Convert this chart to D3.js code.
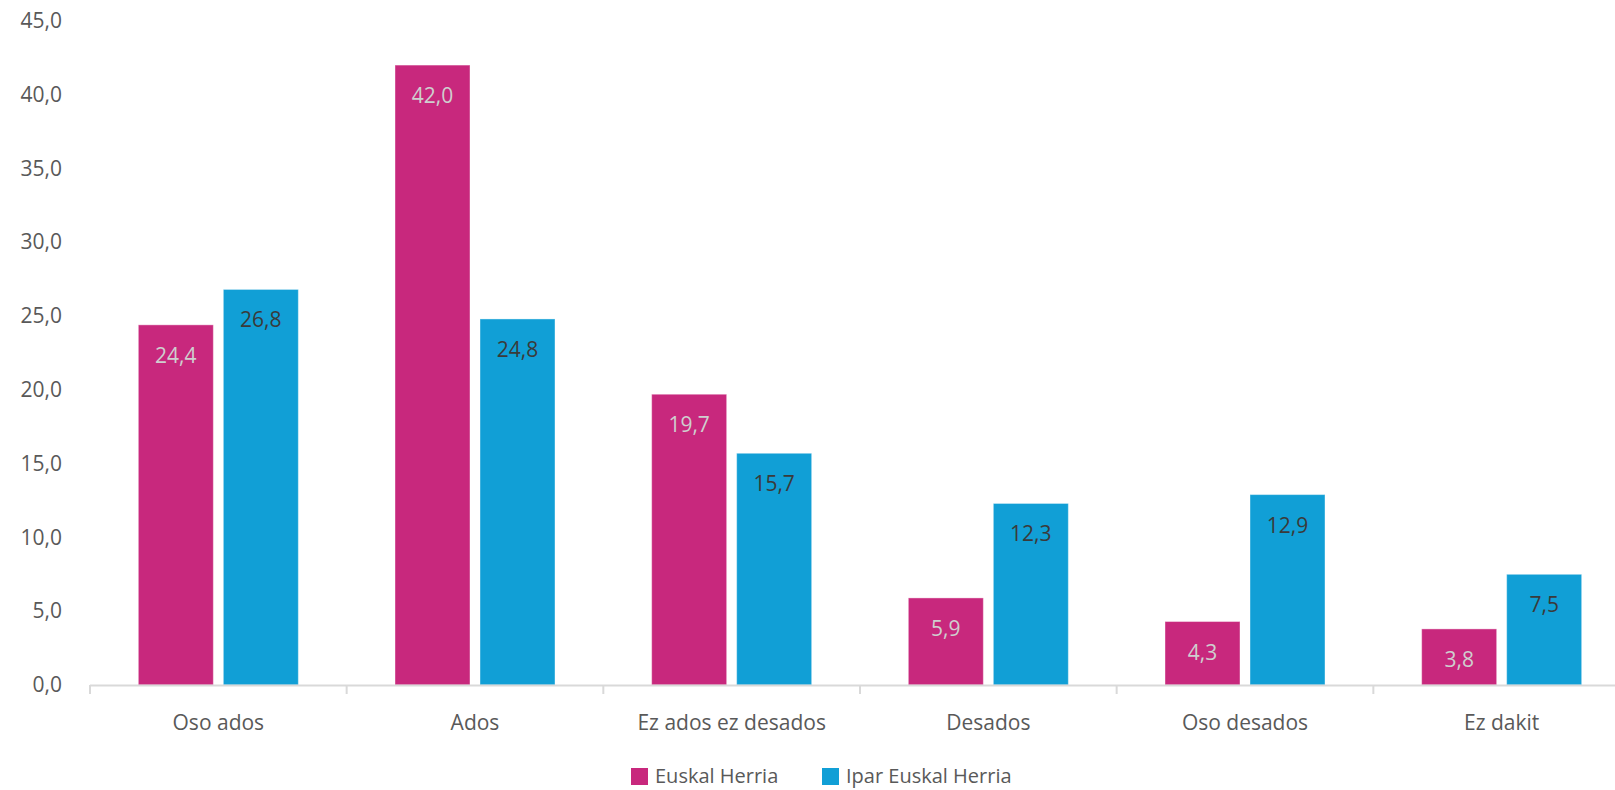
<!DOCTYPE html>
<html>
<head>
<meta charset="utf-8">
<script src="https://cdn.jsdelivr.net/npm/d3@7"></script>
<style>
  body { margin: 0; background: #fff; }
  svg text { font-family: "Open Sans", Roboto, sans-serif; }
</style>
</head>
<body>
<div id="chart"></div>
<script>
// data
var categories = ["Oso ados", "Ados", "Ez ados ez desados", "Desados", "Oso desados", "Ez dakit"];
var seriesNames = ["Euskal Herria", "Ipar Euskal Herria"];
var euskalHerria = [24.4, 42.0, 19.7, 5.9, 4.3, 3.8];
var iparEuskalHerria = [26.8, 24.8, 15.7, 12.3, 12.9, 7.5];
var yTicks = [0, 5, 10, 15, 20, 25, 30, 35, 40, 45];

var colors = ["#c8287d", "#119fd6"];
var labelColors = ["#cfcfcf", "#3a3a3a"];

var svgWidth = 1615, svgHeight = 790;
var x0 = 90, x1 = 1630, yBase = 685;

var svg = d3.select("#chart").append("svg")
  .attr("width", svgWidth)
  .attr("height", svgHeight);

var fmt = function(v) { return d3.format(".1f")(v).replace(".", ","); };

var xScale = d3.scaleBand().domain(categories).range([x0, x1]).padding(0);
var xSub = d3.scaleBand().domain(seriesNames)
  .range([0, 160]).paddingInner(10 / 85);
var yScale = d3.scaleLinear().domain([0, 45]).range([yBase, yBase - 45 * 14.76]);

// y axis labels (no line)
var yAxis = svg.append("g")
  .attr("transform", "translate(62,0)")
  .call(d3.axisLeft(yScale).tickValues(yTicks).tickSize(0).tickPadding(0).tickFormat(fmt));
yAxis.select(".domain").remove();
yAxis.selectAll("text")
  .attr("fill", "#595959")
  .style("font-size", "21px");

// bars
var data = [];
categories.forEach(function(c, i) {
  data.push({cat: c, s: 0, v: euskalHerria[i]});
  data.push({cat: c, s: 1, v: iparEuskalHerria[i]});
});

var groupOffset = (xScale.bandwidth() - 160) / 2;

svg.selectAll("rect.bar")
  .data(data)
  .enter()
  .append("rect")
  .attr("class", "bar")
  .attr("x", d => xScale(d.cat) + groupOffset + xSub(seriesNames[d.s]))
  .attr("y", d => yScale(d.v))
  .attr("width", xSub.bandwidth())
  .attr("height", d => yBase - yScale(d.v))
  .attr("fill", d => colors[d.s])
  .attr("stroke", "#fff")
  .attr("stroke-opacity", 0.4)
  .attr("stroke-width", 1);

svg.selectAll("text.val")
  .data(data)
  .enter()
  .append("text")
  .attr("class", "val")
  .attr("x", d => xScale(d.cat) + groupOffset + xSub(seriesNames[d.s]) + xSub.bandwidth() / 2)
  .attr("y", d => yScale(d.v) + 38)
  .attr("text-anchor", "middle")
  .attr("fill", d => labelColors[d.s])
  .style("font-size", "21px")
  .text(d => fmt(d.v));

// x axis
var xAxis = svg.append("g")
  .attr("transform", `translate(0, ${yBase})`)
  .call(d3.axisBottom(xScale).tickSize(0).tickPadding(0));
xAxis.select(".domain")
  .attr("d", `M${x0},0.5H${x1}`)
  .attr("stroke", "#d9d9d9")
  .attr("stroke-width", 2);
xAxis.selectAll(".tick text")
  .attr("y", 45)
  .attr("dy", 0)
  .attr("fill", "#595959")
  .style("font-size", "21px");

var sep = d3.range(categories.length + 1).map(i => x0 + i * xScale.step());
svg.selectAll("line.sep")
  .data(sep)
  .enter()
  .append("line")
  .attr("x1", d => d).attr("x2", d => d)
  .attr("y1", yBase).attr("y2", yBase + 9)
  .attr("stroke", "#d9d9d9")
  .attr("stroke-width", 2);

// legend
var legendX = [631, 822];
var legend = svg.selectAll("g.legend")
  .data(seriesNames)
  .enter()
  .append("g")
  .attr("transform", (d, i) => `translate(${legendX[i]}, 768)`);
legend.append("rect")
  .attr("width", 17).attr("height", 17)
  .attr("fill", (d, i) => colors[i]);
legend.append("text")
  .attr("x", 24).attr("y", 15)
  .attr("fill", "#595959")
  .style("font-size", "20px")
  .text(d => d);
</script>
</body>
</html>
